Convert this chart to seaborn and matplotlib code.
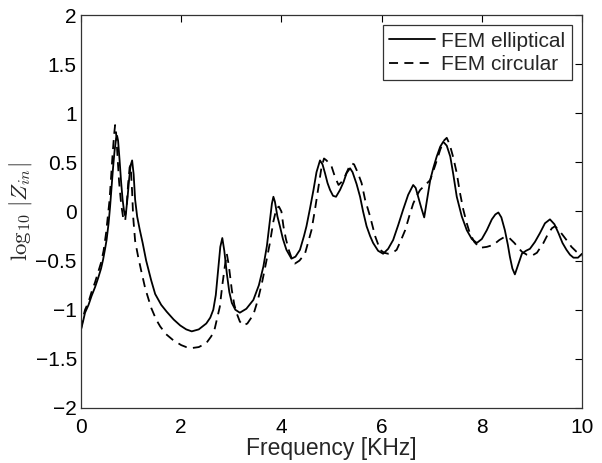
# import libraries
import pandas as pd
import matplotlib
matplotlib.use("Agg")
import matplotlib.pyplot as plt
import seaborn as sns

# frequency [kHz] and log10|Zin|
freq_ell = [0.00, 0.04, 0.08, 0.15, 0.21, 0.28, 0.34, 0.40, 0.44, 0.48, 0.51, 0.55, 0.58, 0.61, 0.64,
            0.67, 0.70, 0.72, 0.74, 0.77, 0.80, 0.83, 0.86, 0.88, 0.90, 0.93, 0.96, 0.99, 1.02, 1.05,
            1.08, 1.12, 1.17, 1.23, 1.30, 1.40, 1.48, 1.60, 1.71, 1.85, 1.98, 2.10, 2.21, 2.35, 2.50,
            2.58, 2.64, 2.69, 2.74, 2.78, 2.82, 2.86, 2.91, 2.96, 3.01, 3.08, 3.17, 3.30, 3.44, 3.55,
            3.64, 3.71, 3.77, 3.81, 3.84, 3.87, 3.92, 3.97, 4.03, 4.10, 4.20, 4.28, 4.37, 4.45, 4.50,
            4.57, 4.64, 4.70, 4.77, 4.82, 4.87, 4.92, 4.97, 5.03, 5.09, 5.17, 5.24, 5.30, 5.37, 5.42,
            5.50, 5.57, 5.63, 5.70, 5.77, 5.83, 5.93, 6.03, 6.13, 6.23, 6.33, 6.43, 6.53, 6.63, 6.68,
            6.73, 6.79, 6.85, 6.90, 6.97, 7.03, 7.10, 7.17, 7.23, 7.30, 7.37, 7.43, 7.50, 7.60, 7.70,
            7.80, 7.90, 8.00, 8.10, 8.20, 8.27, 8.33, 8.39, 8.46, 8.52, 8.56, 8.61, 8.66, 8.72, 8.80,
            8.88, 8.96, 9.06, 9.16, 9.26, 9.36, 9.45, 9.53, 9.61, 9.69, 9.76, 9.83, 9.92, 10.00]
z_ell = [-1.20, -1.12, -1.03, -0.95, -0.86, -0.77, -0.68, -0.58, -0.49, -0.38, -0.29, -0.12, 0.05, 0.25, 0.45,
         0.62, 0.74, 0.77, 0.72, 0.52, 0.30, 0.12, 0.00, -0.04, 0.00, 0.15, 0.33, 0.47, 0.52, 0.38,
         0.12, -0.05, -0.18, -0.32, -0.50, -0.70, -0.84, -0.95, -1.02, -1.10, -1.16, -1.20, -1.22, -1.20, -1.14,
         -1.08, -1.00, -0.85, -0.58, -0.36, -0.27, -0.40, -0.63, -0.82, -0.93, -1.00, -1.03, -0.99, -0.90, -0.75,
         -0.56, -0.35, -0.09, 0.08, 0.15, 0.10, -0.05, -0.15, -0.28, -0.39, -0.48, -0.46, -0.39, -0.25, -0.15,
         0.03, 0.22, 0.40, 0.52, 0.48, 0.39, 0.29, 0.22, 0.16, 0.15, 0.22, 0.30, 0.39, 0.44, 0.40,
         0.28, 0.15, 0.00, -0.15, -0.25, -0.32, -0.40, -0.43, -0.38, -0.29, -0.14, 0.02, 0.17, 0.27, 0.24,
         0.15, 0.04, -0.06, 0.10, 0.32, 0.44, 0.56, 0.66, 0.71, 0.67, 0.56, 0.38, 0.15, -0.05, -0.19,
         -0.28, -0.32, -0.28, -0.19, -0.08, -0.03, -0.01, -0.06, -0.19, -0.34, -0.46, -0.58, -0.64, -0.55, -0.43,
         -0.40, -0.38, -0.31, -0.22, -0.12, -0.08, -0.13, -0.22, -0.32, -0.39, -0.44, -0.47, -0.47, -0.43]

freq_circ = [0.00, 0.04, 0.08, 0.15, 0.21, 0.28, 0.34, 0.40, 0.45, 0.50, 0.54, 0.57, 0.60, 0.63, 0.66,
             0.68, 0.70, 0.73, 0.76, 0.80, 0.84, 0.88, 0.91, 0.94, 0.97, 0.99, 1.02, 1.04, 1.08, 1.14,
             1.20, 1.28, 1.40, 1.50, 1.58, 1.70, 1.84, 2.00, 2.10, 2.21, 2.35, 2.50, 2.60, 2.67, 2.72,
             2.77, 2.82, 2.87, 2.91, 2.95, 3.01, 3.06, 3.11, 3.17, 3.24, 3.32, 3.44, 3.53, 3.61, 3.69,
             3.77, 3.84, 3.90, 3.95, 4.00, 4.04, 4.09, 4.14, 4.20, 4.27, 4.36, 4.47, 4.53, 4.60, 4.67,
             4.74, 4.80, 4.85, 4.90, 5.00, 5.07, 5.14, 5.20, 5.27, 5.34, 5.40, 5.45, 5.52, 5.60, 5.67,
             5.77, 5.87, 5.97, 6.05, 6.13, 6.22, 6.30, 6.38, 6.47, 6.55, 6.63, 6.70, 6.77, 6.87, 6.97,
             7.07, 7.17, 7.24, 7.30, 7.36, 7.43, 7.50, 7.56, 7.63, 7.70, 7.76, 7.85, 7.96, 8.10, 8.23,
             8.35, 8.45, 8.55, 8.65, 8.73, 8.80, 8.90, 9.00, 9.10, 9.23, 9.33, 9.40, 9.46, 9.52, 9.60,
             9.69, 9.79, 9.89, 10.00]
z_circ = [-1.20, -1.08, -1.00, -0.92, -0.82, -0.72, -0.62, -0.52, -0.40, -0.22, -0.02, 0.12, 0.35, 0.58, 0.78,
          0.88, 0.80, 0.55, 0.30, 0.08, -0.06, -0.10, 0.05, 0.28, 0.45, 0.47, 0.20, -0.05, -0.30, -0.46,
          -0.60, -0.78, -0.98, -1.10, -1.17, -1.25, -1.31, -1.36, -1.38, -1.39, -1.38, -1.34, -1.27, -1.19, -1.08,
          -0.97, -0.75, -0.56, -0.43, -0.55, -0.80, -0.95, -1.04, -1.12, -1.16, -1.14, -1.05, -0.90, -0.73, -0.53,
          -0.32, -0.10, 0.03, 0.05, 0.00, -0.15, -0.28, -0.38, -0.47, -0.53, -0.50, -0.43, -0.32, -0.19, 0.02,
          0.25, 0.45, 0.54, 0.52, 0.46, 0.35, 0.27, 0.30, 0.36, 0.44, 0.49, 0.48, 0.40, 0.29, 0.12,
          -0.05, -0.25, -0.39, -0.42, -0.43, -0.42, -0.39, -0.30, -0.19, -0.05, 0.08, 0.16, 0.22, 0.27, 0.32,
          0.47, 0.63, 0.72, 0.75, 0.68, 0.55, 0.39, 0.20, 0.02, -0.12, -0.22, -0.31, -0.37, -0.36, -0.34,
          -0.29, -0.26, -0.27, -0.32, -0.37, -0.41, -0.44, -0.45, -0.42, -0.32, -0.22, -0.17, -0.15, -0.18, -0.23,
          -0.29, -0.36, -0.41, -0.45]

x_ticks = [0, 2, 4, 6, 8, 10]
y_ticks = [-2, -1.5, -1, -0.5, 0, 0.5, 1, 1.5, 2]

ell = pd.DataFrame({"f": freq_ell, "z": z_ell})
circ = pd.DataFrame({"f": freq_circ, "z": z_circ})

# matlab-ish look
sns.set_theme(style="white")
plt.rcParams["font.family"] = ["Liberation Sans", "DejaVu Sans"]
plt.rcParams["mathtext.fontset"] = "cm"

fig, ax = plt.subplots(figsize=(6.02, 4.63), dpi=100)
fig.subplots_adjust(left=0.1346, right=0.9668, bottom=0.1188, top=0.9676)

sns.lineplot(data=ell, x="f", y="z", color="black", lw=1.3, sort=False, estimator=None,
             label="FEM elliptical", ax=ax)
sns.lineplot(data=circ, x="f", y="z", color="black", lw=1.3, sort=False, estimator=None,
             label="FEM circular", ax=ax)
ax.lines[1].set_dashes([5, 3.5])

ax.set_xlim(0, 10)
ax.set_ylim(-2, 2)
ax.set_xticks(x_ticks)
ax.set_yticks(y_ticks)
ax.set_xticklabels([f"{t:g}" for t in x_ticks])
ax.set_yticklabels([f"{t:g}".replace("-", "\u2212") for t in y_ticks])
ax.tick_params(direction="in", top=True, right=True, length=5, width=0.8,
               labelsize=15, colors="black")
ax.tick_params(axis="x", pad=7)
ax.tick_params(axis="y", pad=3)
for sp in ax.spines.values():
    sp.set_color("#333333")
    sp.set_linewidth(0.9)

ax.set_xlabel("Frequency [KHz]", fontsize=16.5, labelpad=0)
ax.set_ylabel(r"$\log_{10}\,|Z_{in}|$", fontsize=16.5, labelpad=1)

leg = ax.legend(loc="upper right", fontsize=15, handlelength=2.2, handletextpad=0.3,
                borderpad=0.3, labelspacing=0.2, fancybox=False, framealpha=1,
                borderaxespad=0.5)
leg.get_frame().set_edgecolor("#333333")
leg.get_frame().set_linewidth(0.9)

plt.savefig("out.png", dpi=100)
